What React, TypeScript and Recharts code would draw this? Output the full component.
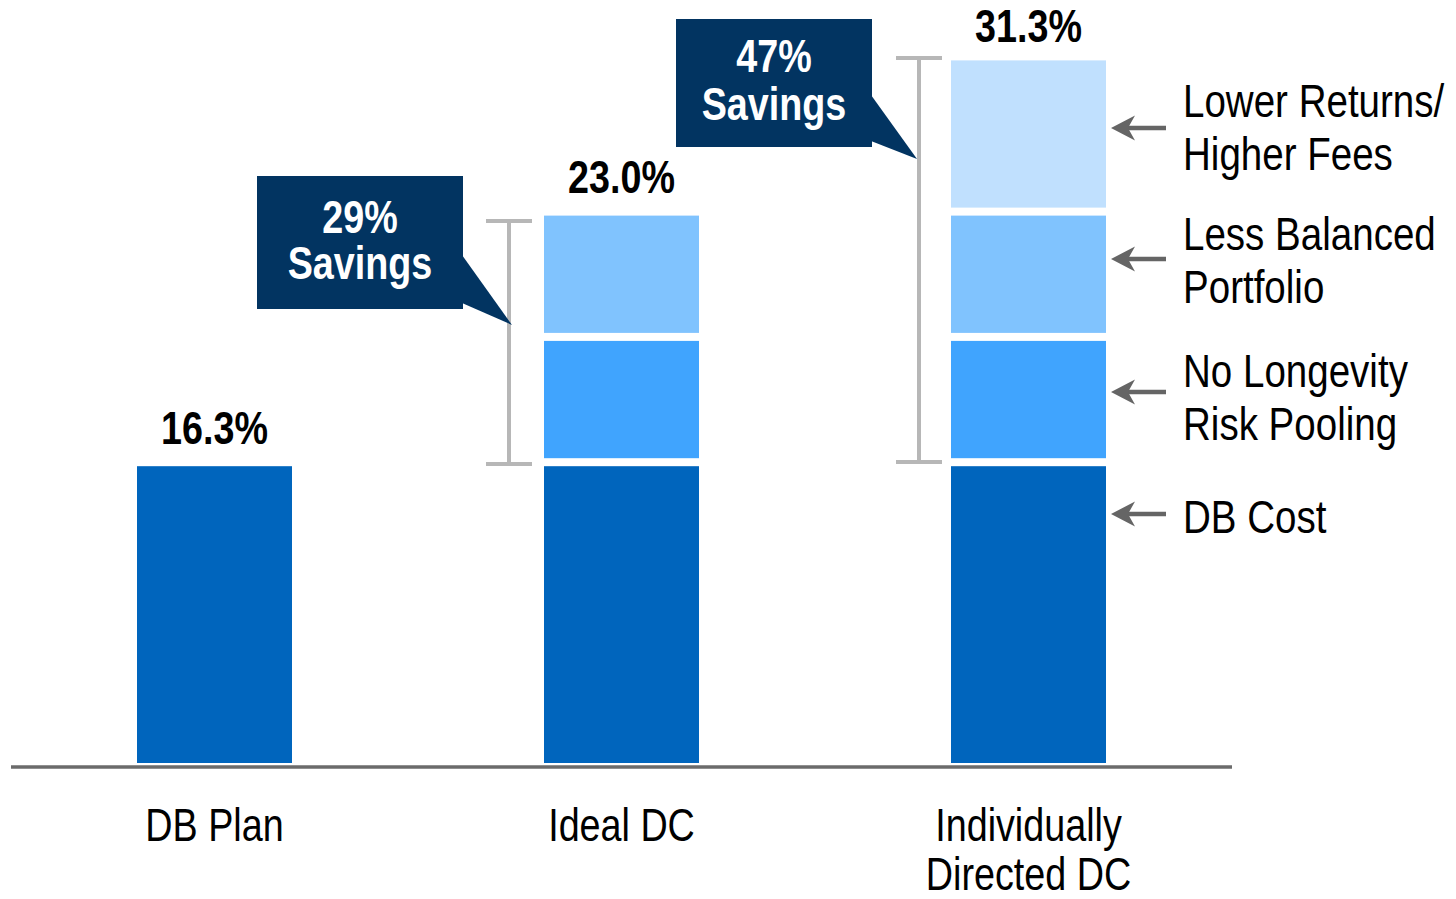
import { BarChart, Bar, XAxis, YAxis, LabelList } from "recharts";

const categories = ["DB Plan", "Ideal DC", "Individually Directed DC"];
const dbCost = [16.3, 16.3, 16.3];
const noLongevity = [null, 6.7, 6.7];
const lessBalanced = [null, 6.7, 6.7];
const lowerReturns = [null, null, 8.3];
const totalLabels = ["16.3%", "23.0%", "31.3%"];

const SERIES = [
  { key: "dbCost", name: "DB Cost", color: "#0065BD" },
  { key: "noLongevity", name: "No Longevity Risk Pooling", color: "#40A4FE" },
  { key: "lessBalanced", name: "Less Balanced Portfolio", color: "#80C3FE" },
  { key: "lowerReturns", name: "Lower Returns/Higher Fees", color: "#C0E0FE" },
];

const data = categories.map((c, i) => ({
  category: c,
  dbCost: dbCost[i],
  noLongevity: noLongevity[i],
  lessBalanced: lessBalanced[i],
  lowerReturns: lowerReturns[i],
}));

// no Arial Narrow in the sandbox: squeeze Liberation Sans (Arial metrics) instead
const FONT = "'Liberation Sans', Arial, sans-serif";
const NARROW = 0.82;
const LABEL_GAP = [18, 19, 14];

type NarrowProps = {
  x: number;
  y: number;
  lines: string[];
  lineGap?: number;
  anchor?: "start" | "middle" | "end";
  bold?: boolean;
  fill?: string;
  size?: number;
};

const NarrowText = ({ x, y, lines, lineGap = 50, anchor = "start", bold, fill = "#000", size = 46 }: NarrowProps) => (
  <g transform={`translate(${x},${y}) scale(${NARROW},1)`}>
    <text x={0} y={0} textAnchor={anchor} fontFamily={FONT} fontWeight={bold ? "bold" : "normal"} fontSize={size} fill={fill}>
      {lines.map((l, i) => (
        <tspan key={l} x={0} dy={i === 0 ? 0 : lineGap}>
          {l}
        </tspan>
      ))}
    </text>
  </g>
);

// top-most series for each category, so the total sits on it
const topKey = data.map(row => {
  let k = "dbCost";
  SERIES.forEach(s => {
    if ((row as any)[s.key] != null) k = s.key;
  });
  return k;
});

const GapRect = (props: any) => {
  const { x, y, width, height, fill } = props;
  if (!height) return null;
  return <rect x={x} y={y + 4} width={width} height={Math.max(0, height - 8)} fill={fill} />;
};

const totalLabel = (seriesKey: string) => (props: any) => {
  const { x, y, width, index } = props;
  if (topKey[index] !== seriesKey) return null;
  return <NarrowText x={x + width / 2} y={y - LABEL_GAP[index]} lines={[totalLabels[index]]} anchor="middle" bold />;
};

const CategoryTick = (props: any) => {
  const { x, y, payload } = props;
  const lines = payload.value === "Individually Directed DC" ? ["Individually", "Directed DC"] : [payload.value];
  return <NarrowText x={x} y={y + 66} lines={lines} lineGap={49} anchor="middle" />;
};

const legendItems = [
  { lines: ["Lower Returns/", "Higher Fees"], baseline: 117, arrowY: 128 },
  { lines: ["Less Balanced", "Portfolio"], baseline: 250, arrowY: 259 },
  { lines: ["No Longevity", "Risk Pooling"], baseline: 387, arrowY: 392 },
  { lines: ["DB Cost"], baseline: 533, arrowY: 514 },
];

const callouts = [
  { top: "29%", x: 257, y: 176, w: 206, h: 133, tip: [512, 325], notch: [255, 303], b1: 233, b2: 279 },
  { top: "47%", x: 676, y: 19, w: 196, h: 128, tip: [917, 159], notch: [95, 141], b1: 72, b2: 120 },
];

const brackets = [
  { x: 509, y1: 221, y2: 464 },
  { x: 919, y1: 58, y2: 462 },
];

function Annotations() {
  return (
    <svg width={1456} height={899} style={{ position: "absolute", left: 0, top: 0, pointerEvents: "none" }}>
      {brackets.map(b => (
        <g key={b.x} stroke="#B7B7B7" strokeWidth={4}>
          <line x1={b.x} x2={b.x} y1={b.y1} y2={b.y2} />
          <line x1={b.x - 23} x2={b.x + 23} y1={b.y1} y2={b.y1} />
          <line x1={b.x - 23} x2={b.x + 23} y1={b.y2} y2={b.y2} />
        </g>
      ))}
      {callouts.map(c => (
        <g key={c.top}>
          <rect x={c.x} y={c.y} width={c.w} height={c.h} fill="#023461" />
          <polygon
            points={`${c.x + c.w - 1},${c.notch[0]} ${c.x + c.w - 1},${c.notch[1]} ${c.tip[0]},${c.tip[1]}`}
            fill="#023461"
          />
          <NarrowText x={c.x + c.w / 2} y={c.b1} lines={[c.top]} anchor="middle" bold fill="#fff" />
          <NarrowText x={c.x + c.w / 2} y={c.b2} lines={["Savings"]} anchor="middle" bold fill="#fff" />
        </g>
      ))}
      {legendItems.map(item => (
        <g key={item.lines[0]}>
          <line x1={1126} x2={1166} y1={item.arrowY} y2={item.arrowY} stroke="#656565" strokeWidth={4.5} />
          <polygon
            points={`1111,${item.arrowY} 1135,${item.arrowY - 12.5} 1128,${item.arrowY} 1135,${item.arrowY + 12.5}`}
            fill="#656565"
          />
          <NarrowText x={1183} y={item.baseline} lines={item.lines} lineGap={53} size={47} />
        </g>
      ))}
    </svg>
  );
}

export default function App() {
  return (
    <div style={{ position: "absolute", left: 0, top: 0, width: 1456, height: 899, background: "#fff" }}>
      <BarChart width={1456} height={899} data={data} margin={{ top: 19, right: 224, bottom: 0, left: 11 }}>
        <XAxis
          dataKey="category"
          height={132}
          axisLine={{ stroke: "#6B6B6B", strokeWidth: 3.5 }}
          tickLine={false}
          tick={<CategoryTick />}
          interval={0}
        />
        <YAxis hide domain={[0, 40]} />
        {SERIES.map(s => (
          <Bar
            key={s.key}
            dataKey={s.key}
            name={s.name}
            stackId="cost"
            fill={s.color}
            barSize={155}
            shape={<GapRect />}
            isAnimationActive={false}
          >
            <LabelList dataKey={s.key} content={totalLabel(s.key)} />
          </Bar>
        ))}
      </BarChart>
      <Annotations />
    </div>
  );
}
